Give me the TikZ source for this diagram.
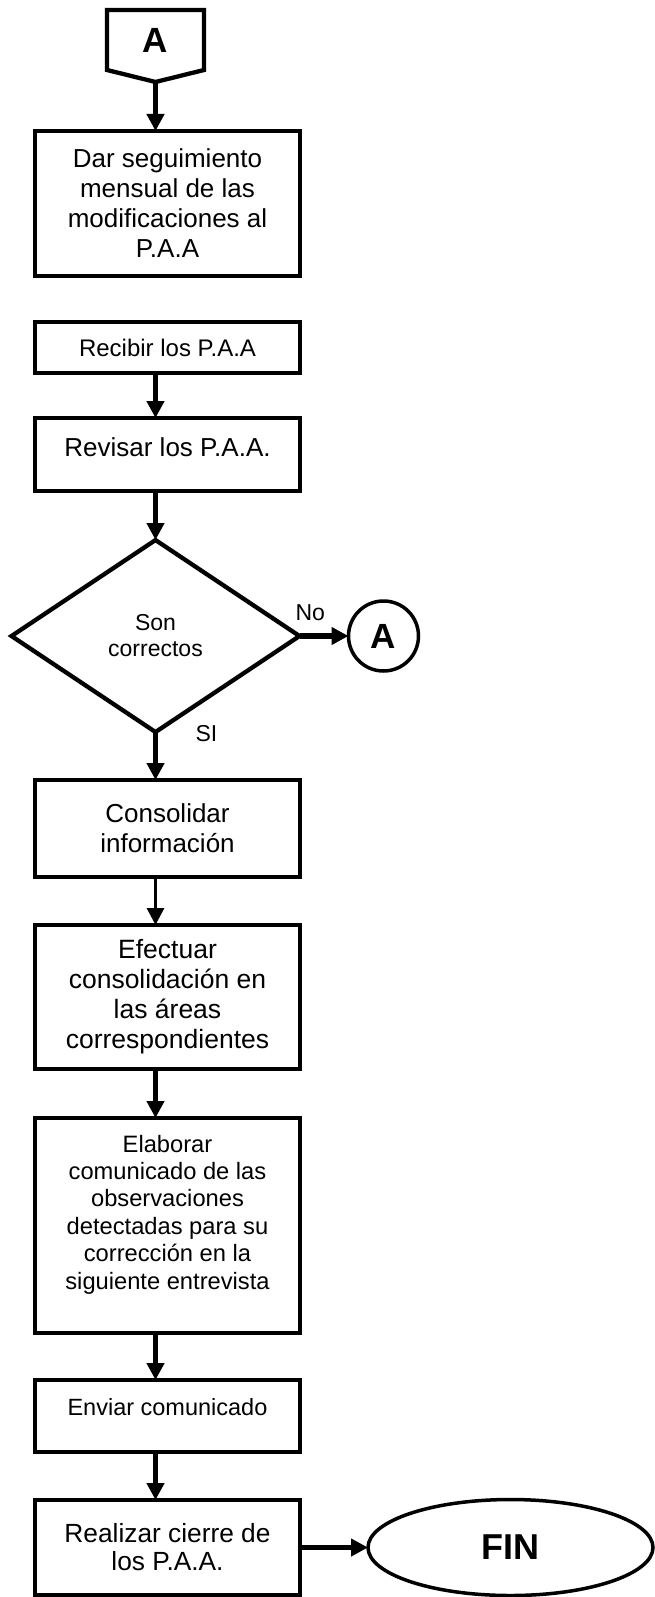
\documentclass[tikz,border=0pt]{standalone}
\usepackage{fontspec}
\setmainfont{Liberation Sans}
\usetikzlibrary{shapes.geometric,arrows.meta,positioning}
\newcommand\setfs[2]{\fontsize{#1}{#2}\selectfont}
\tikzset{
    node distance=47pt,
    box/.style={rectangle, draw, line width=4.3pt, minimum width=265pt, inner sep=0pt, outer sep=0pt, align=center},
    question/.style={diamond, draw, line width=4.3pt, minimum width=288pt, minimum height=192pt, inner sep=0pt, outer sep=0pt, align=center},
    conn/.style={minimum width=97pt, minimum height=60pt, inner sep=0pt, outer sep=0pt, font=\setfs{35}{40}\bfseries},
    onpage/.style={circle, draw, line width=3.5pt, minimum size=70pt, inner sep=0pt, outer sep=0pt, font=\setfs{35}{40}\bfseries},
    terminal/.style={ellipse, draw, line width=3.5pt, minimum width=285pt, minimum height=96pt, inner sep=0pt, outer sep=0pt, font=\setfs{36}{40}\bfseries},
    flow/.style={-{Triangle[length=17pt,width=17pt]}, line width=5.5pt},
    lbl/.style={inner sep=0pt, outer sep=0pt, font=\setfs{23}{26}}
}

\begin{document}
\begin{tikzpicture}[x=1pt,y=1pt]
            \useasboundingbox (0,0) rectangle (654,-1597);
            % Off-page connector on top
            \node[conn] (conA) at (155.5,-40) {A};
            \coordinate[below=12pt of conA.south] (conAtip);
            \draw[line width=4.3pt] (conA.north west) -- (conA.north east) -- (conA.south east) -- (conAtip) -- (conA.south west) -- cycle;
            % Process boxes
            \node[box,minimum height=145pt,font=\setfs{26}{30}] (track) [below=61pt of conA,xshift=12pt] {Dar seguimiento\\mensual de las\\modificaciones al\\P.A.A};
            \node[box,minimum height=51pt,font=\setfs{24}{28}] (recibir) [below=46pt of track] {Recibir los P.A.A};
            \node[box,minimum height=73pt,text depth=14pt,font=\setfs{26}{30}] (revisar) [below=45pt of recibir] {Revisar los P.A.A.};
            \node[question,font=\setfs{23}{26}] (decision) [below=49pt of revisar,xshift=-12pt] {Son\\correctos};
            \node[onpage] (circA) [right=49pt of decision] {A};
            \node[lbl] (no) [above right=15pt and -4pt of decision.east] {No};
            \node[lbl] (si) [below right=-7pt and 40pt of decision.south] {SI};
            \node[box,minimum height=97pt,font=\setfs{26}{30}] (consolidar) [below=48pt of decision,xshift=12pt] {Consolidar\\información};
            \node[box,minimum height=144pt,font=\setfs{26.5}{30}] (efectuar) [below=48pt of consolidar] {Efectuar\\consolidación en\\las áreas\\correspondientes};
            \node[box,minimum height=215pt,text depth=27pt,font=\setfs{23.7}{27.4}] (elaborar) [below=49pt of efectuar] {Elaborar\\comunicado de las\\observaciones\\detectadas para su\\corrección en la\\siguiente entrevista};
            \node[box,minimum height=72pt,text depth=19pt,font=\setfs{23.5}{28}] (enviar) [below=47pt of elaborar] {Enviar comunicado};
            \node[box,minimum height=95pt,font=\setfs{26.3}{28}] (realizar) [below=48pt of enviar] {Realizar cierre de\\los P.A.A.};
            \node[terminal] (fin) [right=68pt of realizar] {FIN};
            % Flow arrows
            \draw[flow] (conAtip) -- (conAtip |- track.north);
            \draw[flow] (conA |- recibir.south) -- (conA |- revisar.north);
            \draw[flow] (conA |- revisar.south) -- (decision.north);
            \draw[flow] (decision) -- (circA);
            \draw[flow] (decision.south) -- (decision.south |- consolidar.north);
            \draw[flow,line width=3pt] (conA |- consolidar.south) -- (conA |- efectuar.north);
            \draw[flow] (conA |- efectuar.south) -- (conA |- elaborar.north);
            \draw[flow] (conA |- elaborar.south) -- (conA |- enviar.north);
            \draw[flow] (conA |- enviar.south) -- (conA |- realizar.north);
            \draw[flow] (realizar) -- (fin);
\end{tikzpicture}
\end{document}
